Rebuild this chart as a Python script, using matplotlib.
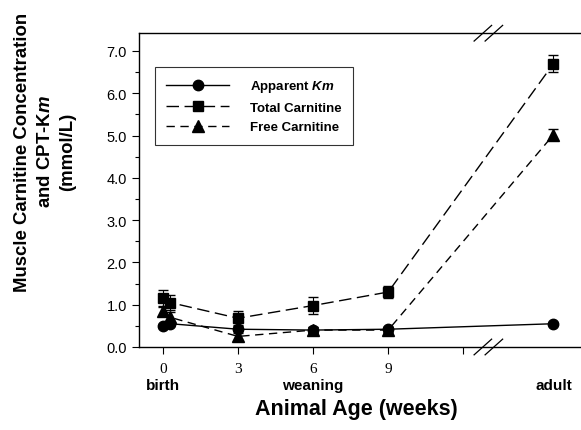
import numpy as np
import matplotlib
matplotlib.use("Agg")
import matplotlib.pyplot as plt
import matplotlib.transforms as mtransforms
from matplotlib.lines import Line2D

plt.rcParams['font.family'] = ['Liberation Sans', 'DejaVu Sans']
plt.rcParams['mathtext.fontset'] = 'custom'
plt.rcParams['mathtext.it'] = 'Liberation Sans:italic:bold'
plt.rcParams['mathtext.rm'] = 'Liberation Sans:bold'

# age in weeks (adult drawn after the axis break)
km_x = [0, 0.3, 3, 6, 9, 15.6]
km_y = [0.50, 0.55, 0.42, 0.40, 0.42, 0.55]
km_err = [0.05, 0.05, 0.08, 0.08, 0.06, 0.04]

total_x = [0, 0.3, 3, 6, 9, 15.6]
total_y = [1.15, 1.05, 0.68, 0.98, 1.30, 6.70]
total_err = [0.20, 0.18, 0.17, 0.20, 0.15, 0.20]

free_x = [0, 0.3, 3, 6, 9, 15.6]
free_y = [0.85, 0.70, 0.25, 0.40, 0.40, 5.02]
free_err = [0.12, 0.12, 0.12, 0.08, 0.08, 0.13]

week_ticks = [0, 3, 6, 9, 12]
week_labels = ['0', '3', '6', '9', '']
stage_x = [0, 6, 15.6]
stage_labels = ['birth', 'weaning', 'adult']

fig = plt.figure(figsize=(5.81, 4.31), dpi=100)
ax = fig.add_axes([0.239, 0.1926, 0.761, 0.728])

km_ls = '-'
total_ls = (0, (9, 4))
free_ls = (0, (6, 4))
ax.errorbar(km_x, km_y, yerr=km_err, fmt='-o', color='black', lw=1, ms=7.5,
            capsize=3.5, elinewidth=0.8)
ax.errorbar(total_x, total_y, yerr=total_err, fmt='s', ls=total_ls, color='black', lw=1,
            ms=7, capsize=3.5, elinewidth=0.8)
ax.errorbar(free_x, free_y, yerr=free_err, fmt='^', ls=free_ls, color='black', lw=1,
            ms=8, capsize=3.5, elinewidth=0.8)

ax.set_xlim(-0.96, 16.7)
ax.set_ylim(0, 7.42)
ax.set_yticks(np.arange(0, 8, 1))
ax.set_yticklabels(['%.1f' % v for v in range(8)], fontsize=10.5)
ax.set_yticks(np.arange(0.5, 7.5, 1), minor=True)
ax.set_xticks(week_ticks)
ax.set_xticklabels(week_labels, fontsize=11, family='Liberation Serif')
ax.tick_params(axis='both', which='both', direction='out', length=5, width=0.8)
ax.tick_params(axis='y', which='minor', length=3)
ax.tick_params(axis='x', pad=6)
ax.spines['right'].set_visible(False)
for s in ['left', 'top', 'bottom']:
    ax.spines[s].set_linewidth(1.0)

# stage names under the week numbers
trans = mtransforms.blended_transform_factory(ax.transData, fig.transFigure)
for x, lab in zip(stage_x, stage_labels):
    fig.text(0, 0, lab, transform=trans, fontsize=11, fontweight='bold',
             ha='center', va='center').set_position((x, 1 - 386 / 431))

fig.text(356 / 581, 1 - 410 / 431, 'Animal Age (weeks)', fontsize=15.5, fontweight='bold',
         ha='center', va='center')
fig.text(45 / 581, 1 - 152 / 431,
         'Muscle Carnitine Concentration\nand CPT-K$\\mathit{m}$\n(mmol/L)',
         fontsize=13.4, fontweight='bold', rotation=90, ha='center', va='center',
         linespacing=1.45, multialignment='center')

# axis break marks
btrans = mtransforms.blended_transform_factory(ax.transData, ax.transAxes)
for yb in [0, 1]:
    for dx in [-0.22, 0.22]:
        ax.plot([13.0 + dx - 0.35, 13.0 + dx + 0.35], [yb - 0.025, yb + 0.025],
                color='black', lw=0.9, transform=btrans, clip_on=False)

handles = [
    Line2D([], [], color='black', lw=1, ls=km_ls, marker='o', ms=7.5),
    Line2D([], [], color='black', lw=1, ls=total_ls, marker='s', ms=7),
    Line2D([], [], color='black', lw=1, ls=free_ls, marker='^', ms=8),
]
labels = [r'Apparent $\mathit{Km}$', 'Total Carnitine', 'Free Carnitine']
leg = ax.legend(handles, labels, loc='upper left', bbox_to_anchor=(0.036, 0.892),
                fontsize=9.5, frameon=True, fancybox=False, handlelength=4.8,
                borderpad=0.85, labelspacing=0.55, handletextpad=1.6, borderaxespad=0)
leg.get_frame().set_edgecolor('black')
leg.get_frame().set_linewidth(0.8)
for t in leg.get_texts():
    t.set_fontweight('bold')

fig.savefig('out.png', dpi=100)
